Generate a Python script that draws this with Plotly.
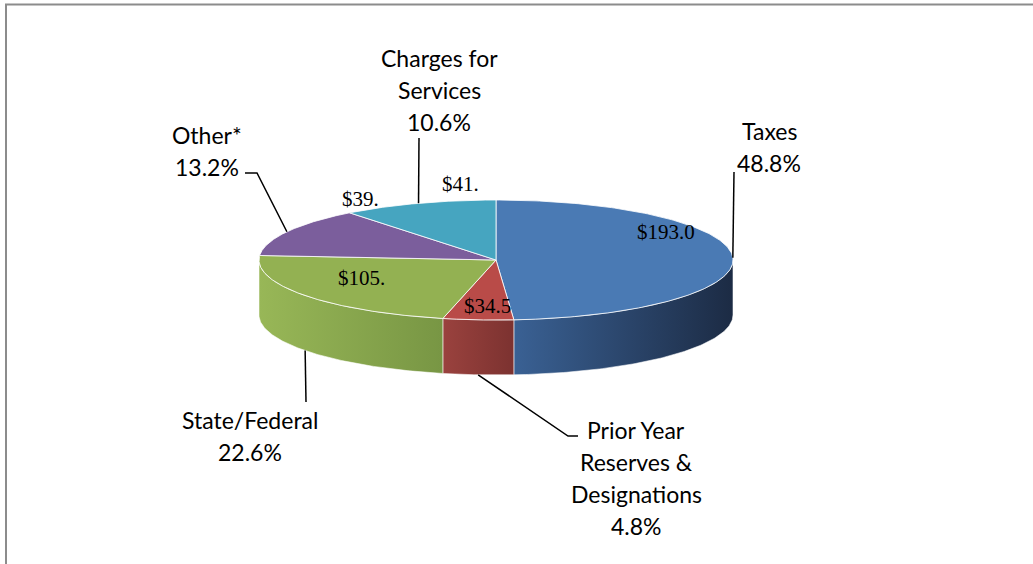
import numpy as np
import plotly.graph_objects as go

# ---------------- data ----------------
categories = ["Taxes", "Prior Year Reserves & Designations", "State/Federal", "Other*", "Charges for Services"]
label_lines = [["Taxes", "48.8%"],
               ["Prior Year", "Reserves &", "Designations", "4.8%"],
               ["State/Federal", "22.6%"],
               ["Other*", "13.2%"],
               ["Charges for", "Services", "10.6%"]]
percents = [48.8, 4.8, 22.6, 13.2, 10.6]
value_labels = ["$193.0", "$34.5", "$105.", "$39.", "$41."]

# ---------------- styles / layout ----------------
top_colors = ["#4a7ab4", "#b94b48", "#93b152", "#7b5e9c", "#46a5c0"]
wall_colors = [("#3a6194", "#1c2b44"), ("#9a423e", "#7c3230"), ("#98b757", "#789644"),
               ("#6a5088", "#5a4275"), ("#3b8fa6", "#2f7588")]
W, H = 1033, 564
CX, CY, RX, RY, DEPTH = 496, 260, 237, 60, 55

# text positions of category labels (center x, y of first line), line spacing
label_pos = [(769, 131), (636, 430), (250, 420), (207, 135), (439, 58)]
LINE_SP = 32
# leader line end points (elbow points after the start on the pie)
leader_ends = [[(734, 172)],
               [(568, 436), (578, 436)],
               [(306, 402)],
               [(257, 173), (245, 173)],
               [(419, 138)]]
# value label positions
value_pos = [(666, 232), (487, 306), (361, 278), (360, 199), (460, 184)]


def ell(phi_deg, dy=0.0):
    p = np.radians(phi_deg)
    return CX + RX * np.cos(p), CY + dy - RY * np.sin(p)


fig = go.Figure()

total = sum(percents)
cum = np.concatenate([[0], np.cumsum(percents)]) / total
starts = 90 - 360 * cum[:-1]
ends = 90 - 360 * cum[1:]

# walls (front visible part)
for i in range(len(percents)):
    a, b = starts[i], ends[i]
    for k in (-1, 0):
        lo = max(b, -180 + 360 * k)
        hi = min(a, 0 + 360 * k)
        if hi - lo <= 0.01:
            continue
        ph = np.linspace(lo, hi, 120)
        xt, yt = ell(ph)
        xb, yb = ell(ph[::-1], DEPTH)
        xs = np.concatenate([xt, xb, xt[:1]])
        ys = np.concatenate([yt, yb, yt[:1]])
        c1, c2 = wall_colors[i]
        fig.add_trace(go.Scatter(
            x=xs, y=ys, mode="lines", fill="toself",
            fillgradient=dict(type="horizontal", colorscale=[[0, c1], [1, c2]]),
            line=dict(color="rgba(255,255,255,0.55)", width=1),
            hoverinfo="skip", showlegend=False))

# tops
for i in range(len(percents)):
    ph = np.linspace(starts[i], ends[i], 200)
    xa, ya = ell(ph)
    xs = np.concatenate([[CX], xa, [CX]])
    ys = np.concatenate([[CY], ya, [CY]])
    fig.add_trace(go.Scatter(
        x=xs, y=ys, mode="lines", fill="toself", fillcolor=top_colors[i],
        line=dict(color="rgba(255,255,255,0.8)", width=1),
        hoverinfo="skip", showlegend=False, name=categories[i]))

# leader lines and labels
for i in range(len(percents)):
    mid = (starts[i] + ends[i]) / 2
    s = np.sin(np.radians(mid))
    x0, y0 = ell(mid, DEPTH if s < 0 else 0)
    pts = [(x0, y0)] + leader_ends[i]
    fig.add_trace(go.Scatter(
        x=[p[0] for p in pts], y=[p[1] for p in pts], mode="lines",
        line=dict(color="black", width=1.5), hoverinfo="skip", showlegend=False))
    lx, ly = label_pos[i]
    for j, t in enumerate(label_lines[i]):
        fig.add_annotation(x=lx, y=ly + j * LINE_SP, text=t, showarrow=False,
                           xanchor="center", yanchor="middle",
                           font=dict(family="Lato", size=23, color="black"))
    vx, vy = value_pos[i]
    fig.add_annotation(x=vx, y=vy, text=value_labels[i], showarrow=False,
                       xanchor="center", yanchor="middle",
                       font=dict(family="Liberation Serif", size=21, color="black"))

# chart frame
fig.add_shape(type="path", path="M 6 570 L 6 4.5 L 1040 4.5",
              line=dict(color="#8c8c8c", width=2), xref="x", yref="y")

fig.update_layout(
    width=W, height=H, autosize=False,
    margin=dict(l=0, r=0, t=0, b=0),
    paper_bgcolor="white", plot_bgcolor="white",
    xaxis=dict(range=[0, W], visible=False, fixedrange=True),
    yaxis=dict(range=[H, 0], visible=False, fixedrange=True),
    showlegend=False, hovermode=False,
)

fig.write_html("out.html", config={"displayModeBar": False},
               post_script="document.body.style.margin='0px';document.body.style.overflow='hidden';")
